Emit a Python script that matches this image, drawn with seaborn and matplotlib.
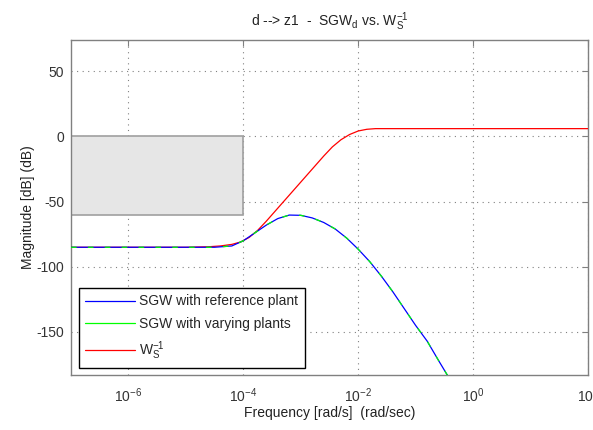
import numpy as np
import pandas as pd
import matplotlib
matplotlib.use("Agg")
import matplotlib.pyplot as plt
from matplotlib.lines import Line2D
from matplotlib.patches import Rectangle
import seaborn as sns

# Magnitude responses, frequency given as log10(rad/s), magnitude in dB
sgw_logw = [-7.0, -5.0, -4.5, -4.2, -4.0, -3.8, -3.6, -3.4, -3.2, -3.0, -2.8,
            -2.6, -2.4, -2.2, -2.0, -1.8, -1.6, -1.4, -1.2, -1.0, -0.8, -0.6,
            -0.45, -0.3]
sgw_ref_db = [-85, -85, -85, -84, -80, -74, -68, -63, -60.3, -60.5, -62.5,
              -66, -71, -78, -86.5, -96, -107, -119, -132, -145, -157, -172,
              -183, -195]
sgw_var_db = [-85, -85, -85, -84, -80, -74, -68, -63, -60.3, -60.5, -62.5,
              -66, -71, -78, -86.5, -96, -107, -119, -132, -145, -157, -172,
              -183, -195]

ws_inv_logw = [-7.0, -5.0, -4.6, -4.4, -4.2, -4.05, -3.9, -3.75, -3.6, -3.4,
               -3.2, -3.0, -2.8, -2.6, -2.45, -2.3, -2.15, -2.0, -1.85, -1.7,
               2.0]
ws_inv_db = [-85, -85, -84.6, -84, -82.8, -81, -77.5, -72, -65, -55,
             -45, -35, -25, -15, -8, -2.5, 1.5, 4.2, 5.5, 6, 6]

# Performance bound region: |S| below 0 dB down to -60 dB up to 1e-4 rad/s
bound_w = [1e-7, 1e-4]
bound_db = [-60, 0]

xticks = [1e-6, 1e-4, 1e-2, 1e0, 1e2]
yticks = [-150, -100, -50, 0, 50]

sns.set_style("white")
plt.rcParams["font.family"] = ["Liberation Sans", "DejaVu Sans"]
plt.rcParams["mathtext.fontset"] = "custom"
plt.rcParams["mathtext.rm"] = "Liberation Sans"
plt.rcParams["mathtext.it"] = "Liberation Sans"
plt.rcParams["mathtext.default"] = "regular"
plt.rcParams["axes.unicode_minus"] = False

sgw = pd.DataFrame({"w": 10.0 ** np.array(sgw_logw),
                    "ref": sgw_ref_db, "var": sgw_var_db})
wsi = pd.DataFrame({"w": 10.0 ** np.array(ws_inv_logw), "db": ws_inv_db})

fig = plt.figure(figsize=(5.93, 4.30), dpi=100)
ax = fig.add_axes([71 / 593, 1 - 375 / 430, 517 / 593, 335 / 430])

ax.add_patch(Rectangle((bound_w[0], bound_db[0]), bound_w[1] - bound_w[0],
                       bound_db[1] - bound_db[0], facecolor="#e6e6e6",
                       edgecolor="#a0a0a0", linewidth=1.2, zorder=1))

sns.lineplot(data=wsi, x="w", y="db", color="#ff0000", linewidth=0.9,
             ax=ax, legend=False, zorder=3)
sns.lineplot(data=sgw, x="w", y="ref", color="#0000ff", linewidth=0.9,
             ax=ax, legend=False, zorder=4)
sns.lineplot(data=sgw, x="w", y="var", color="#00ff00", linewidth=0.9,
             ax=ax, legend=False, zorder=5, dashes=False)
ax.lines[-1].set_dashes([4.5, 9])

ax.set_xscale("log")
ax.set_xlim(1e-7, 1e2)
ax.set_ylim(-183, 74)
ax.set_xticks(xticks)
ax.set_xticklabels([r"$10^{%d}$" % int(round(np.log10(t))) for t in xticks])
ax.xaxis.set_minor_locator(matplotlib.ticker.NullLocator())
ax.set_yticks(yticks)
ax.tick_params(axis="both", direction="in", length=4, width=0.8,
               colors="#808080", labelcolor="#333333", labelsize=10,
               top=True, right=True)
ax.tick_params(axis="x", pad=8)
ax.tick_params(axis="y", pad=5)
ax.grid(True, which="major", linestyle=(0, (1, 4)), color="#808080",
        linewidth=0.8)
for s in ax.spines.values():
    s.set_color("#808080")
    s.set_linewidth(1.0)

ax.set_xlabel("Frequency [rad/s]  (rad/sec)", fontsize=10, color="#222222",
              labelpad=1)
ax.set_ylabel("Magnitude [dB] (dB)", fontsize=10, color="#222222",
              labelpad=1)
ax.set_title(r"d --> z1  -  SGW$_d$ vs. W$_S^{-1}$", fontsize=10,
             color="#222222", pad=10)

handles = [Line2D([], [], color="#0000ff", linewidth=0.9),
           Line2D([], [], color="#00ff00", linewidth=0.9),
           Line2D([], [], color="#ff0000", linewidth=0.9)]
labels = ["SGW with reference plant", "SGW with varying plants",
          r"W$_S^{-1}$"]
leg = ax.legend(handles, labels, loc="lower left", fontsize=10,
                frameon=True, fancybox=False, framealpha=1,
                edgecolor="#000000", handlelength=3.6, handletextpad=0.3,
                borderaxespad=0.0, borderpad=0.45, labelspacing=0.6,
                bbox_to_anchor=(8 / 517, 7 / 335))
leg.get_frame().set_linewidth(1.0)
leg.set_zorder(10)

fig.savefig("out.png", dpi=100)
